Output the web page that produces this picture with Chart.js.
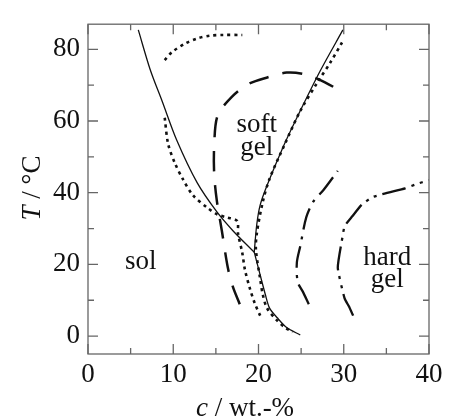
<!DOCTYPE html>
<html>
<head>
<meta charset="utf-8">
<script src="https://cdn.jsdelivr.net/npm/chart.js@4.4.1/dist/chart.umd.min.js"></script>
<style>
    body { margin: 0; background: #fff; }
</style>
</head>
<body>
<canvas id="phase-chart" width="449" height="420"></canvas>
<script>
// axis ticks
const xMajorTicks = [0, 10, 20, 30, 40];
const xMinorTicks = [5, 15, 25, 35];
const yMajorTicks = [0, 20, 40, 60, 80];
const yMinorTicks = [10, 30, 50, 70];

// solid boundaries (c in wt.-%, T in °C)
const solLeftC = [5.9, 7.3, 8.7, 10.4, 12.8, 15.1, 17.0, 19.5];
const solLeftT = [85.4, 74.3, 65.5, 54.7, 42.8, 34.7, 29.4, 23.4];
const solRightC = [19.5, 19.8, 20.2, 21.0, 22.9, 24.5, 27.2, 29.9];
const solRightT = [23.4, 31.2, 36.6, 42.0, 52.8, 60.9, 73.8, 85.4];
const solLowC = [19.5, 20.2, 20.8, 21.3, 22.2, 23.3, 24.9];
const solLowT = [23.4, 17.0, 11.6, 7.8, 5.1, 2.4, 0.3];

// dotted boundaries
const dotTopC = [9.0, 9.85, 11.4, 12.8, 14.3, 15.8, 18.1];
const dotTopT = [77.0, 79.2, 81.6, 83.0, 83.8, 84.0, 84.0];
const dotLeftC = [9.0, 9.4, 10.2, 11.1, 12.3, 14.0, 15.2, 16.3, 17.5, 17.6, 18.1, 18.4, 19.0, 19.6, 20.2];
const dotLeftT = [60.9, 53.6, 48.2, 43.9, 39.3, 35.8, 33.9, 33.1, 32.1, 28.6, 23.2, 18.6, 13.2, 8.9, 5.7];
const dotRightC = [29.8, 28.4, 27.0, 24.9, 23.1, 21.3, 20.5, 19.8, 19.7, 20.2, 20.5, 21.0, 22.2, 23.1, 24.0];
const dotRightT = [81.9, 76.2, 71.1, 62.8, 53.6, 43.9, 37.4, 28.6, 24.0, 15.9, 11.6, 7.8, 4.3, 2.4, 1.1];

// long dashed
const dashC = [17.8, 17.0, 16.4, 15.7, 15.1, 14.8, 14.8, 15.2, 16.9, 18.8, 21.1, 23.3, 25.5, 27.8, 30.0];
const dashT = [8.9, 13.7, 19.1, 29.4, 38.0, 45.3, 53.0, 61.5, 66.8, 70.3, 72.2, 73.5, 73.0, 70.8, 67.8];

// dash-dot
const dashDotC = [25.9, 25.2, 24.6, 24.5, 24.9, 25.6, 26.4, 27.6, 29.3];
const dashDotT = [8.9, 12.4, 15.1, 20.5, 25.1, 33.1, 37.4, 40.7, 46.1];

// dash-dot-dot
const dashDotDotC = [31.1, 30.6, 30.1, 29.3, 29.9, 30.1, 31.0, 32.1, 33.4, 37.2, 38.4, 40.0];
const dashDotDotT = [5.7, 8.3, 10.5, 19.1, 28.3, 30.7, 33.4, 36.6, 38.8, 41.2, 42.3, 43.5];

// region labels
const regionLabels = [
    { text: 'sol', c: 6.2, T: 18.6 },
    { text: 'soft', c: 19.8, T: 56.8 },
    { text: 'gel', c: 19.8, T: 50.6 },
    { text: 'hard', c: 35.1, T: 19.9 },
    { text: 'gel', c: 35.1, T: 13.7 }
];

const serif = '"Liberation Serif", "Times New Roman", serif';

function toPoints(cs, ts) {
    return cs.map((c, i) => ({ x: c, y: ts[i] }));
}

function curve(cs, ts, style) {
    return Object.assign({
        data: toPoints(cs, ts),
        showLine: true,
        pointRadius: 0,
        borderColor: '#111',
        borderWidth: 1.3,
        tension: 0.3,
        fill: false
    }, style);
}

const dotted = { borderWidth: 2.6, borderDash: [3, 4] };

const frameTicks = {
    id: 'frameTicks',
    afterDatasetsDraw(chart) {
        const { ctx, chartArea: a, scales } = chart;
        const xs = scales.x, ys = scales.y;
        ctx.save();
        ctx.strokeStyle = '#666';
        ctx.lineWidth = 1.3;
        ctx.strokeRect(a.left, a.top, a.right - a.left, a.bottom - a.top);
        ctx.beginPath();
        const xt = (v, len) => {
            const p = xs.getPixelForValue(v);
            ctx.moveTo(p, a.bottom); ctx.lineTo(p, a.bottom - len);
            ctx.moveTo(p, a.top); ctx.lineTo(p, a.top + len);
        };
        const yt = (v, len) => {
            const p = ys.getPixelForValue(v);
            ctx.moveTo(a.left, p); ctx.lineTo(a.left + len, p);
            ctx.moveTo(a.right, p); ctx.lineTo(a.right - len, p);
        };
        xMajorTicks.forEach(v => xt(v, 10));
        xMinorTicks.forEach(v => xt(v, 6));
        yMajorTicks.forEach(v => yt(v, 10));
        yMinorTicks.forEach(v => yt(v, 6));
        ctx.stroke();

        // region labels
        ctx.fillStyle = '#111';
        ctx.font = '27px ' + serif;
        ctx.textAlign = 'center';
        ctx.textBaseline = 'alphabetic';
        regionLabels.forEach(l => {
            ctx.fillText(l.text, xs.getPixelForValue(l.c), ys.getPixelForValue(l.T));
        });
        ctx.restore();
    },
    afterDraw(chart) {
        const { ctx } = chart;
        ctx.save();
        ctx.fillStyle = '#111';
        ctx.textBaseline = 'alphabetic';
        ctx.textAlign = 'left';

        // x title: c / wt.-%
        const it = 'italic 27px ' + serif, up = '27px ' + serif;
        ctx.font = it;
        const w1 = ctx.measureText('c').width;
        ctx.font = up;
        const w2 = ctx.measureText(' / wt.-%').width;
        let x0 = 245 - (w1 + w2) / 2;
        ctx.font = it;
        ctx.fillText('c', x0, 416);
        ctx.font = up;
        ctx.fillText(' / wt.-%', x0 + w1, 416);

        // y title: T / °C
        ctx.translate(40, 188);
        ctx.rotate(-Math.PI / 2);
        ctx.font = it;
        const v1 = ctx.measureText('T').width;
        ctx.font = up;
        const v2 = ctx.measureText(' / °C').width;
        const s0 = -(v1 + v2) / 2;
        ctx.font = it;
        ctx.fillText('T', s0, 0);
        ctx.font = up;
        ctx.fillText(' / °C', s0 + v1, 0);
        ctx.restore();
    }
};

const canvas = document.getElementById('phase-chart');

new Chart(canvas, {
    type: 'scatter',
    data: {
        datasets: [
            curve(solLeftC, solLeftT, {}),
            curve(solRightC, solRightT, {}),
            curve(solLowC, solLowT, {}),
            curve(dotTopC, dotTopT, dotted),
            curve(dotLeftC, dotLeftT, dotted),
            curve(dotRightC, dotRightT, dotted),
            curve(dashC, dashT, { borderWidth: 2.5, borderDash: [20, 14] }),
            curve(dashDotC, dashDotT, { borderWidth: 2.3, borderDash: [22, 7, 3, 7] }),
            curve(dashDotDotC, dashDotDotT, { borderWidth: 2.3, tension: 0.15, borderDash: [24, 6, 3, 6, 3, 6] })
        ]
    },
    options: {
        responsive: false,
        animation: false,
        layout: { padding: { top: 13, right: 20, left: 0, bottom: 0 } },
        plugins: {
            legend: { display: false },
            tooltip: { enabled: false }
        },
        scales: {
            x: {
                type: 'linear',
                min: 0,
                max: 40,
                afterBuildTicks: scale => { scale.ticks = xMajorTicks.map(v => ({ value: v })); },
                afterFit: scale => { scale.height = 66; },
                grid: { display: false, drawTicks: false },
                border: { display: false },
                ticks: {
                    padding: 5,
                    color: '#111',
                    font: { family: serif, size: 27 },
                    maxRotation: 0
                }
            },
            y: {
                type: 'linear',
                min: -5,
                max: 87,
                afterBuildTicks: scale => { scale.ticks = yMajorTicks.map(v => ({ value: v })); },
                afterFit: scale => { scale.width = 88; },
                grid: { display: false, drawTicks: false },
                border: { display: false },
                ticks: {
                    padding: 8,
                    color: '#111',
                    font: { family: serif, size: 27 }
                }
            }
        }
    },
    plugins: [frameTicks]
});
</script>
</body>
</html>
